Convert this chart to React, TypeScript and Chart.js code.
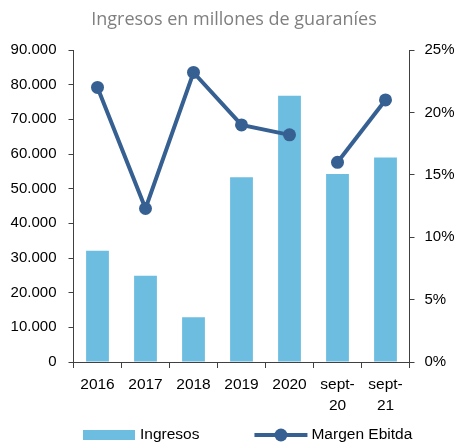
import React, { useEffect, useRef } from "react";
import { Chart, registerables } from "chart.js";

Chart.register(...registerables);

const titleText = "Ingresos en millones de guaraníes";
const categories: (string | string[])[] = ["2016", "2017", "2018", "2019", "2020", ["sept-", "20"], ["sept-", "21"]];
const ingresos = [32100, 24900, 12900, 53300, 76800, 54200, 59000];
const margenEbitda = [22.0, 12.3, 23.2, 19.0, 18.2, 16.0, 21.0];
const leftTickLabels = ["0", "10.000", "20.000", "30.000", "40.000", "50.000", "60.000", "70.000", "80.000", "90.000"];
const rightTickLabels = ["0%", "5%", "10%", "15%", "20%", "25%"];
const seriesNames = ["Ingresos", "Margen Ebitda"];

const BAR_COLOR = "#6CBDDF";
const LINE_COLOR = "#366092";
const AXIS_COLOR = "#404040";
const FONT = "'Liberation Sans', Arial, sans-serif";

const legendPlugin = {
  id: "customLegend",
  afterDraw(chart: any) {
    const ctx = chart.ctx as CanvasRenderingContext2D;
    const area = chart.chartArea;
    const y = area.bottom + 73;
    ctx.save();
    ctx.font = `15.5px ${FONT}`;
    ctx.textBaseline = "middle";
    ctx.textAlign = "left";
    let x = area.left + 9.5;
    ctx.fillStyle = BAR_COLOR;
    ctx.fillRect(x, y - 5, 52, 10);
    x += 52 + 5;
    ctx.fillStyle = "#000";
    ctx.fillText(seriesNames[0], x, y);
    x += ctx.measureText(seriesNames[0]).width + 55;
    ctx.strokeStyle = LINE_COLOR;
    ctx.lineWidth = 4;
    ctx.beginPath();
    ctx.moveTo(x, y);
    ctx.lineTo(x + 53, y);
    ctx.stroke();
    ctx.fillStyle = LINE_COLOR;
    ctx.beginPath();
    ctx.arc(x + 26.5, y, 6.5, 0, Math.PI * 2);
    ctx.fill();
    x += 53 + 4;
    ctx.fillStyle = "#000";
    ctx.fillText(seriesNames[1], x, y);
    ctx.restore();
  },
};

export default function App() {
  const canvasRef = useRef<HTMLCanvasElement | null>(null);

  useEffect(() => {
    if (!canvasRef.current) return;
    const chart = new Chart(canvasRef.current, {
      type: "bar",
      data: {
        labels: categories as any,
        datasets: [
          {
            type: "line",
            label: seriesNames[1],
            data: margenEbitda,
            yAxisID: "y1",
            borderColor: LINE_COLOR,
            backgroundColor: LINE_COLOR,
            borderWidth: 4,
            pointRadius: 6.5,
            pointBorderWidth: 0,
            pointBackgroundColor: LINE_COLOR,
            tension: 0,
            order: 0,
            segment: {
              borderColor: (ctx: any) => (ctx.p0DataIndex === 4 ? "rgba(0,0,0,0)" : LINE_COLOR),
            },
          } as any,
          {
            type: "bar",
            label: seriesNames[0],
            data: ingresos,
            yAxisID: "y",
            backgroundColor: BAR_COLOR,
            borderWidth: 0,
            barPercentage: 0.475,
            categoryPercentage: 1,
            order: 1,
          },
        ],
      },
      options: {
        animation: false,
        responsive: true,
        maintainAspectRatio: false,
        layout: { padding: { left: 10, right: 0, top: 0, bottom: 28 } },
        plugins: {
          legend: { display: false },
          tooltip: { enabled: false },
          title: {
            display: true,
            text: titleText,
            color: "#7F7F7F",
            font: { family: "'Open Sans', sans-serif", size: 18, weight: "normal", lineHeight: 1.2 },
            padding: { top: 9, bottom: 19.4 },
          },
        },
        scales: {
          x: {
            offset: true,
            grid: {
              offset: true,
              drawOnChartArea: false,
              drawTicks: true,
              tickLength: 6,
              color: AXIS_COLOR,
            },
            border: { display: true, color: AXIS_COLOR, width: 1 },
            ticks: {
              color: "#000",
              font: { family: FONT, size: 15.5, lineHeight: 1.35 },
              padding: 6,
              maxRotation: 0,
              autoSkip: false,
            },
            afterFit: (scale: any) => {
              scale.height = 55;
            },
          },
          y: {
            position: "left",
            min: 0,
            max: 90000,
            grid: { drawOnChartArea: false, drawTicks: true, tickLength: 5, color: AXIS_COLOR },
            border: { display: true, color: AXIS_COLOR, width: 1 },
            ticks: {
              stepSize: 10000,
              color: "#000",
              font: { family: FONT, size: 15 },
              padding: 12,
              callback: (_v: any, i: number) => leftTickLabels[i],
            },
            afterFit: (scale: any) => {
              scale.width = 63.5;
            },
          },
          y1: {
            position: "right",
            min: 0,
            max: 25,
            grid: { drawOnChartArea: false, drawTicks: true, tickLength: 5, color: AXIS_COLOR },
            border: { display: true, color: AXIS_COLOR, width: 1 },
            ticks: {
              stepSize: 5,
              color: "#000",
              font: { family: FONT, size: 15 },
              padding: 10,
              callback: (_v: any, i: number) => rightTickLabels[i],
            },
            afterFit: (scale: any) => {
              scale.width = 48.5;
            },
          },
        },
      },
      plugins: [legendPlugin],
    });
    return () => chart.destroy();
  }, []);

  return (
    <div style={{ position: "fixed", left: 0, top: 0, width: 458, height: 445, background: "#fff" }}>
      <canvas ref={canvasRef} />
    </div>
  );
}
